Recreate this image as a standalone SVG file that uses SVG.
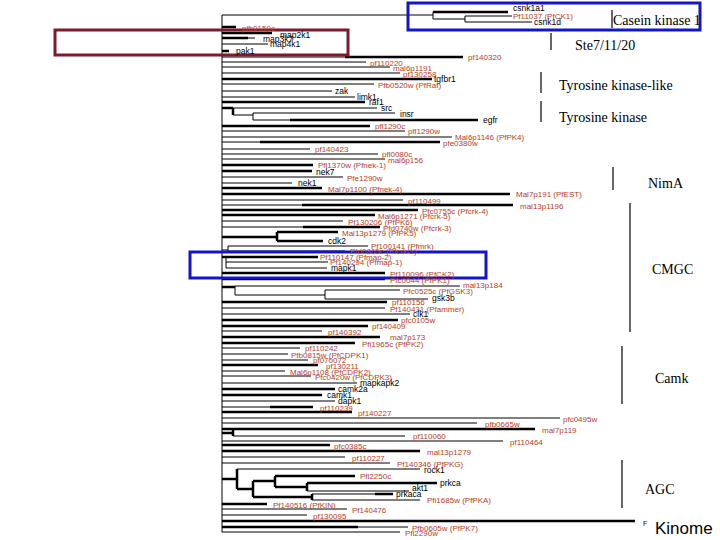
<svg xmlns="http://www.w3.org/2000/svg" width="720" height="540" viewBox="0 0 720 540">
<style>
.t{stroke:#000;stroke-width:1;fill:none}
.T{stroke:#000;stroke-width:2.5;fill:none}
.r{font-family:"Liberation Sans",Arial,sans-serif;font-size:8px;fill:#b5401f}
.k{font-family:"Liberation Sans",Arial,sans-serif;font-size:8.5px;fill:#000}
.g{font-family:"Liberation Serif","Times New Roman",serif;font-size:14px;fill:#000}
.bar{stroke:#000;stroke-width:1.2}
</style>
<rect width="720" height="540" fill="#fff"/>
<g id="connectors">
<path class="t" d="M222 15V532"/>
<path class="t" d="M222 15H433M433 12V19M433 19H465M465 16V22M465 16H512M465 22H532"/>
<path class="T" d="M433 12H508"/>
<path class="T" d="M222 27H236M222 33H272M222 38H248M222 51H229"/>
<path class="t" d="M248 38H255M222 44H268"/>
<path class="t" d="M222 57H345M222 62H366M222 67H390M222 73H400M222 84H374M222 91H332M222 97H355"/>
<path class="T" d="M345 57H463M222 79H432M222 102H365"/>
<path class="T" d="M222 108H233M233 108V115"/>
<path class="t" d="M233 108H377M233 115H253M253 113V120M253 113H395M253 120H290"/>
<path class="T" d="M290 120H478"/>
<path class="T" d="M222 126H370M260 142H440M222 165H313M222 171H312M222 188H322"/>
<path class="t" d="M222 131H405M222 137H452M222 142H260M222 149H310M222 154H378M222 159H385M222 177H343M222 183H292"/>
<path class="T" d="M222 194H510M302 205H513M222 210H418M222 215H375M303 227H380"/>
<path class="t" d="M222 200H403M222 205H302M222 221H343M222 227H303"/>
<path class="T" d="M222 237H277M277 232V241M277 232H338M277 241H323"/>
<path class="t" d="M222 250H228M228 246V251M228 246H368M228 251H345"/>
<path class="t" d="M226 257V268M226 262H328M226 268H327"/>
<path class="T" d="M222 257H318M222 273H385M222 279H385M222 287H235"/>
<path class="t" d="M235 286V295M235 286H460M235 295H325M325 290V299M325 290H400M325 299H428"/>
<path class="T" d="M222 302H387M222 320H398M222 326H368M222 337H380M222 343H355"/>
<path class="t" d="M222 308H385M222 314H410M222 331H322M222 348H300M222 354H288M222 360H308"/>
<path class="T" d="M222 365H318M222 389H335M222 395H322M270 407H313M222 412H352M222 429H535M222 433H233M233 430V436M222 445H330"/>
<path class="t" d="M222 371H285M222 376H311M222 383H357M222 401H335M222 407H270M222 418H560M222 423H477M233 436H405M222 441H503"/>
<path class="T" d="M222 451H420M222 479H237M237 469V489M237 489H253M253 481V497M253 481H275M275 476V487M275 476H355M275 487H307M307 483V491M307 483H437M253 497H312M312 494V500M375 494H393"/>
<path class="t" d="M222 457H345M222 463H390M237 469H420M307 491H409M312 494H375M312 500H420"/>
<path class="T" d="M222 504H267M222 521H635M222 527H358"/>
<path class="t" d="M222 509H347M222 515H307M358 527H408M222 532H400"/>
</g>
<g id="boxes" fill="none" stroke-width="3">
<rect x="408" y="3" width="292" height="27" stroke="#1515c8"/>
<rect x="55" y="30" width="293" height="25" stroke="#7b1b2e"/>
<rect x="190" y="252" width="296" height="26" stroke="#1515c8"/>
</g>
<g id="groups">
<g id="grp-ck1"><line class="bar" x1="612" y1="10" x2="612" y2="28"/><text class="g" x="613" y="25">Casein kinase 1</text></g>
<g id="grp-ste"><line class="bar" x1="551" y1="33" x2="551" y2="50"/><text class="g" x="575" y="50">Ste7/11/20</text></g>
<g id="grp-tkl"><line class="bar" x1="541" y1="72" x2="541" y2="93"/><text class="g" x="559" y="90">Tyrosine kinase-like</text></g>
<g id="grp-tk"><line class="bar" x1="541" y1="101" x2="541" y2="122"/><text class="g" x="559" y="122">Tyrosine kinase</text></g>
<g id="grp-nima"><line class="bar" x1="613" y1="167" x2="613" y2="190"/><text class="g" x="648" y="188">NimA</text></g>
<g id="grp-cmgc"><line class="bar" x1="630" y1="203" x2="630" y2="332"/><text class="g" x="652" y="274">CMGC</text></g>
<g id="grp-camk"><line class="bar" x1="622" y1="346" x2="622" y2="404"/><text class="g" x="655" y="383">Camk</text></g>
<g id="grp-agc"><line class="bar" x1="622" y1="460" x2="622" y2="508"/><text class="g" x="645" y="494">AGC</text></g>
<g id="kinome"><text x="643" y="526" style="font-family:'Liberation Sans',sans-serif;font-size:7px">F</text><text x="655" y="534" style="font-family:'Liberation Sans',sans-serif;font-size:17px">Kinome</text></g>
</g>
<g id="leaves">
<g id="n1"><text class="k" x="513" y="11">csnk1a1</text></g>
<g id="n2"><text class="r" x="513" y="19">Pf11037 (PfCK1)</text></g>
<g id="n3"><text class="k" x="534" y="25">csnk1d</text></g>
<g id="n4"><text class="r" x="242" y="31">pfb0150c</text></g>
<g id="n5"><text class="k" x="280" y="38">map2k1</text></g>
<g id="n6"><text class="k" x="263" y="42">map3k7</text></g>
<g id="n7"><text class="k" x="270" y="47">map4k1</text></g>
<g id="n8"><text class="k" x="236" y="54">pak1</text></g>
<g id="n9"><text class="r" x="468" y="60">pf140320</text></g>
<g id="n10"><text class="r" x="370" y="66">pf110220</text></g>
<g id="n11"><text class="r" x="393" y="71">mal6p1191</text></g>
<g id="n12"><text class="r" x="403" y="77">pf130258</text></g>
<g id="n13"><text class="k" x="434" y="82">tgfbr1</text></g>
<g id="n14"><text class="r" x="378" y="88">Pfb0520w (PfRaf)</text></g>
<g id="n15"><text class="k" x="335" y="94">zak</text></g>
<g id="n16"><text class="k" x="357" y="100">limk1</text></g>
<g id="n17"><text class="k" x="369" y="105">raf1</text></g>
<g id="n18"><text class="k" x="381" y="111">src</text></g>
<g id="n19"><text class="k" x="400" y="117">insr</text></g>
<g id="n20"><text class="k" x="483" y="123">egfr</text></g>
<g id="n21"><text class="r" x="375" y="129">pfl1290c</text></g>
<g id="n22"><text class="r" x="408" y="134">pfl1290w</text></g>
<g id="n23"><text class="r" x="455" y="140">Mal6p1146 (PfPK4)</text></g>
<g id="n24"><text class="r" x="443" y="146">pfe0380w</text></g>
<g id="n25"><text class="r" x="315" y="152">pf140423</text></g>
<g id="n26"><text class="r" x="382" y="157">pfl0080c</text></g>
<g id="n27"><text class="r" x="388" y="163">mal6p156</text></g>
<g id="n28"><text class="r" x="318" y="168">Pfl1370w (Pfnek-1)</text></g>
<g id="n29"><text class="k" x="316" y="175">nek7</text></g>
<g id="n30"><text class="r" x="347" y="181">Pfe1290w</text></g>
<g id="n31"><text class="k" x="298" y="186">nek1</text></g>
<g id="n32"><text class="r" x="328" y="192">Mal7p1100 (Pfnek-4)</text></g>
<g id="n33"><text class="r" x="516" y="197">Mal7p191 (PfEST)</text></g>
<g id="n34"><text class="r" x="408" y="204">pf110499</text></g>
<g id="n35"><text class="r" x="520" y="209">mal13p1196</text></g>
<g id="n36"><text class="r" x="422" y="214">Pfc0755c (Pfcrk-4)</text></g>
<g id="n37"><text class="r" x="378" y="219">Mal6p1271 (Pfcrk-5)</text></g>
<g id="n38"><text class="r" x="348" y="225">Pf130206 (PfPK6)</text></g>
<g id="n39"><text class="r" x="383" y="231">Pfd0740w (Pfcrk-3)</text></g>
<g id="n40"><text class="r" x="342" y="236">Mal13p1279 (PfPK5)</text></g>
<g id="n41"><text class="k" x="328" y="244">cdk2</text></g>
<g id="n42"><text class="r" x="371" y="249">Pf100141 (Pfmrk)</text></g>
<g id="n43"><text class="r" x="350" y="254">Pfd0865c (Pfcrk-1)</text></g>
<g id="n44"><text class="r" x="320" y="260">Pf110147 (Pfmap-2)</text></g>
<g id="n45"><text class="r" x="330" y="265">Pf140294 (Pfmap-1)</text></g>
<g id="n46"><text class="k" x="331" y="271">mapk1</text></g>
<g id="n47"><text class="r" x="390" y="277">Pf110096 (PfCK2)</text></g>
<g id="n48"><text class="r" x="390" y="283">Pfc0044 (PfPK1)</text></g>
<g id="n49"><text class="r" x="463" y="288">mal13p184</text></g>
<g id="n50"><text class="r" x="403" y="294">Pfc0525c (PfGSK3)</text></g>
<g id="n51"><text class="k" x="432" y="301">gsk3b</text></g>
<g id="n52"><text class="r" x="392" y="305">pf110156</text></g>
<g id="n53"><text class="r" x="390" y="312">Pf140431 (Pfammer)</text></g>
<g id="n54"><text class="k" x="413" y="317">clk1</text></g>
<g id="n55"><text class="r" x="401" y="323">pfc0105w</text></g>
<g id="n56"><text class="r" x="372" y="329">pf140409</text></g>
<g id="n57"><text class="r" x="328" y="335">pf140392</text></g>
<g id="n58"><text class="r" x="390" y="340">mal7p173</text></g>
<g id="n59"><text class="r" x="362" y="347">Pfi1965c (PfPK2)</text></g>
<g id="n60"><text class="r" x="305" y="351">pf110242</text></g>
<g id="n61"><text class="r" x="291" y="358">Pfb0815w (PfCDPK1)</text></g>
<g id="n62"><text class="r" x="313" y="363">pf070072</text></g>
<g id="n63"><text class="r" x="326" y="369">pf130211</text></g>
<g id="n64"><text class="r" x="290" y="375">Mal6p1108 (PfCDPK2)</text></g>
<g id="n65"><text class="r" x="315" y="380">Pfc0420w (PfCDPK3)</text></g>
<g id="n66"><text class="k" x="360" y="386">mapkapk2</text></g>
<g id="n67"><text class="k" x="338" y="392">camk2a</text></g>
<g id="n68"><text class="k" x="327" y="398">camk1</text></g>
<g id="n69"><text class="k" x="338" y="404">dapk1</text></g>
<g id="n70"><text class="r" x="320" y="411">pf110239</text></g>
<g id="n71"><text class="r" x="358" y="416">pf140227</text></g>
<g id="n72"><text class="r" x="563" y="422">pfc0495w</text></g>
<g id="n73"><text class="r" x="485" y="427">pfb0665w</text></g>
<g id="n74"><text class="r" x="542" y="433">mal7p119</text></g>
<g id="n75"><text class="r" x="413" y="439">pf110060</text></g>
<g id="n76"><text class="r" x="510" y="445">pf110464</text></g>
<g id="n77"><text class="r" x="334" y="449">pfc0385c</text></g>
<g id="n78"><text class="r" x="427" y="455">mal13p1279</text></g>
<g id="n79"><text class="r" x="352" y="461">pf110227</text></g>
<g id="n80"><text class="r" x="397" y="467">Pf140346 (PfPKG)</text></g>
<g id="n81"><text class="k" x="424" y="473">rock1</text></g>
<g id="n82"><text class="r" x="360" y="479">Pfl2250c</text></g>
<g id="n83"><text class="k" x="440" y="486">prkca</text></g>
<g id="n84"><text class="k" x="412" y="491">akt1</text></g>
<g id="n85"><text class="k" x="396" y="497">prkaca</text></g>
<g id="n86"><text class="r" x="427" y="503">Pfi1685w (PfPKA)</text></g>
<g id="n87"><text class="r" x="273" y="508">Pf140516 (PfKIN)</text></g>
<g id="n88"><text class="r" x="352" y="513">Pf140476</text></g>
<g id="n89"><text class="r" x="313" y="519">pf130095</text></g>
<g id="n90"><text class="r" x="412" y="531">Pfb0605w (PfPK7)</text></g>
<g id="n91"><text class="r" x="405" y="536">Pfl2290w</text></g>
</g>
</svg>
